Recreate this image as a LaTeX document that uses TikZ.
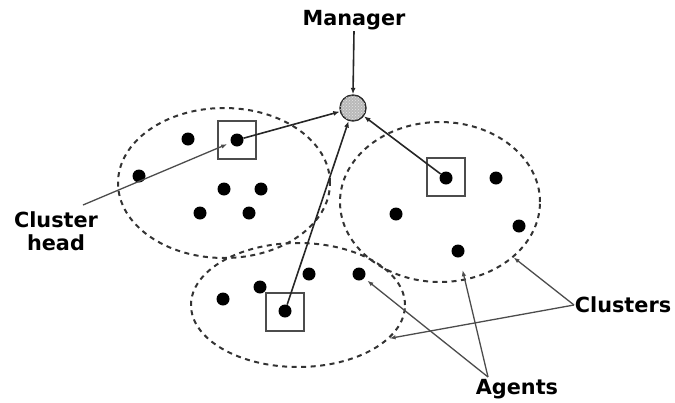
\documentclass[tikz,border=0pt]{standalone}
\usepackage{fontspec}
\setmainfont{DejaVu Sans}
\usetikzlibrary{shapes.geometric,arrows.meta,patterns}
\begin{document}
\begin{tikzpicture}[x=1pt,y=-1pt,
  lbl/.style={font=\bfseries\fontsize{20.8}{23}\selectfont, inner sep=1pt, align=center},
  cluster/.style={draw=black!80, line width=2pt, dash pattern=on 5pt off 4.5pt, ellipse, inner sep=0pt},
  agent/.style={circle, fill=black, inner sep=0pt, minimum size=13pt},
  headbox/.style={draw=black!70, line width=1.6pt, rectangle, minimum size=38pt, inner sep=0pt},
  link/.style={draw=black!85, line width=1.6pt, -{Latex[length=6.5pt,width=5pt]}},
  pointer/.style={draw=black!70, line width=1.3pt, -{Latex[length=6pt,width=4.5pt]}}]
\useasboundingbox (0,0) rectangle (675,402);

% clusters
\node[cluster, minimum width=212pt, minimum height=150pt] (lc) at (224,183) {};
\node[cluster, minimum width=200pt, minimum height=160pt] (rc) at (440,202) {};
\node[cluster, minimum width=214pt, minimum height=124pt] (bc) at (298,305) {};

% manager
\node[circle, draw=black!85, line width=1.4pt, minimum size=26pt, inner sep=0pt,
      fill=gray!55, postaction={pattern=crosshatch dots, pattern color=white!80!gray}] (mgr) at (353,108) {};
\node[lbl] (mgrlbl) at (354,20) {Manager};

% left cluster agents
\node[headbox] (lbox) at (237,140) {};
\node[agent] (lh) at (237,140) {};
\node[agent] (l1) at (188,139) {};
\node[agent] (l2) at (139,176) {};
\node[agent] (l3) at (224,189) {};
\node[agent] (l4) at (261,189) {};
\node[agent] (l5) at (200,213) {};
\node[agent] (l6) at (249,213) {};

% right cluster agents
\node[headbox] (rbox) at (446,177) {};
\node[agent] (rh) at (446,178) {};
\node[agent] (r1) at (496,178) {};
\node[agent] (r2) at (396,214) {};
\node[agent] (r3) at (519,226) {};
\node[agent] (r4) at (458,251) {};

% bottom cluster agents
\node[headbox] (bbox) at (285,312) {};
\node[agent] (bh) at (285,311) {};
\node[agent] (b1) at (223,299) {};
\node[agent] (b2) at (260,287) {};
\node[agent] (b3) at (309,274) {};
\node[agent] (b4) at (359,274) {};

% labels
\node[lbl] (chlbl) at (56,231) {Cluster\\head};
\node[lbl] (cllbl) at (623,305) {Clusters};
\node[lbl] (aglbl) at (517,389) {Agents};

\coordinate (chstart) at (83,205);
\coordinate (clstart) at (574,305);
\coordinate (agstart) at (488,377);

% heads report to the manager
\draw[link] (mgrlbl.south) -- (mgr.north);
\draw[link] (lh) -- (mgr);
\draw[link] (bh) -- (mgr);
\draw[link] (rh) -- (mgr);

% annotation pointers
\draw[pointer, shorten >=4pt] (chstart) -- (lh);
\draw[pointer] (clstart) -- (rc.-37);
\draw[pointer] (clstart) -- (bc.-20);
\draw[pointer, shorten >=13pt] (agstart) -- (r4);
\draw[pointer, shorten >=4pt] (agstart) -- (b4);
\end{tikzpicture}
\end{document}
